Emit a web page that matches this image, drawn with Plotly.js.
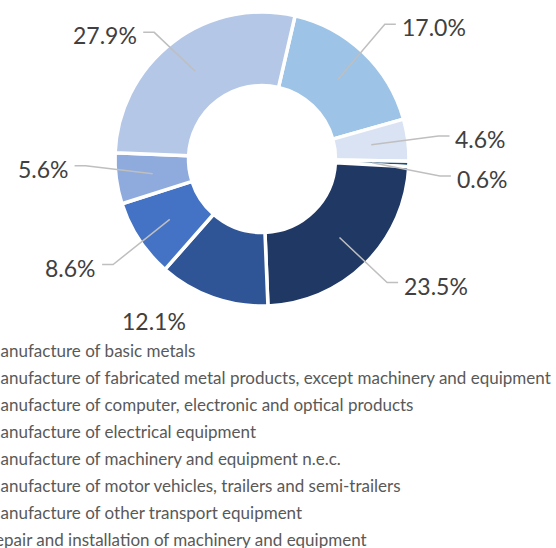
<!DOCTYPE html>
<html>
<head>
<meta charset="utf-8">
<script src="https://cdn.plot.ly/plotly-3.0.1.min.js"></script>
<style>html,body{margin:0;padding:0;background:#fff;}#chart{width:556px;height:548px;}</style>
</head>
<body>
<div id="chart"></div>
<script>
// ---- data ----
const categories = [
  "Manufacture of basic metals",
  "Manufacture of fabricated metal products, except machinery and equipment",
  "Manufacture of computer, electronic and optical products",
  "Manufacture of electrical equipment",
  "Manufacture of machinery and equipment n.e.c.",
  "Manufacture of motor vehicles, trailers and semi-trailers",
  "Manufacture of other transport equipment",
  "Repair and installation of machinery and equipment"
];
const shares = [17.0, 4.6, 0.6, 23.5, 12.1, 8.6, 5.6, 27.9];
const sliceColors = ["#9DC3E6", "#DAE3F3", "#1F4E79", "#203864", "#2F5597", "#4472C4", "#8FAADC", "#B4C7E7"];

// ---- layout / style config ----
const showLeader = [true, true, true, true, false, true, true, true];
const labelNudge = [-6, 0, 11, -3, -9, 8, -17, 15];   // vertical label nudges (px)
const W = 556, H = 548;
const cx = 262, cy = 159, R = 147, hole = 0.5, rotationDeg = 13;
const elbowR = 178, horiz = 11, textGap = 4;

const px2x = p => p / W;
const py2y = p => 1 - p / H;

const total = shares.reduce((a, b) => a + b, 0);
const shapes = [];
const annotations = [];
let acc = 0;
shares.forEach((v, i) => {
  const mid = (rotationDeg + (acc + v / 2) / total * 360) * Math.PI / 180;
  acc += v;
  const rA = R * (1 + hole) / 2;
  const ax = cx + rA * Math.sin(mid), ay = cy - rA * Math.cos(mid);
  const ex = cx + elbowR * Math.sin(mid), ey = cy - elbowR * Math.cos(mid) + labelNudge[i];
  const right = Math.sin(mid) >= 0;
  const hx = ex + (right ? horiz : -horiz);
  if (showLeader[i]) {
    shapes.push({
      type: "path", xref: "paper", yref: "paper",
      path: `M ${px2x(ax)},${py2y(ay)} L ${px2x(ex)},${py2y(ey)} L ${px2x(hx)},${py2y(ey)}`,
      line: { color: "#BFBFBF", width: 1.5 }
    });
  }
  annotations.push({
    xref: "paper", yref: "paper",
    x: px2x(hx + (right ? textGap : -textGap)), y: py2y(ey),
    xanchor: right ? "left" : "right", yanchor: "middle", yshift: -3,
    text: v.toFixed(1) + "%", showarrow: false,
    font: { family: "Lato, 'Open Sans', sans-serif", size: 23, color: "#404040" }
  });
});

const trace = {
  type: "pie",
  labels: categories.map(c => `<span style="font-size:17px">${c}</span>`),
  values: shares,
  sort: false,
  direction: "clockwise",
  rotation: rotationDeg,
  hole: hole,
  textinfo: "none",
  marker: { colors: sliceColors, line: { color: "#ffffff", width: 3.5 } },
  domain: { x: [px2x(cx - R), px2x(cx + R)], y: [py2y(cy + R), py2y(cy - R)] },
  hoverinfo: "label+percent"
};

const layout = {
  width: W, height: H,
  margin: { l: 0, r: 0, t: 0, b: 0, autoexpand: false },
  paper_bgcolor: "#ffffff",
  showlegend: true,
  legend: {
    x: -55 / W, xanchor: "left",
    y: 1 - 331 / H, yanchor: "top",
    orientation: "v",
    font: { family: "Lato, 'Open Sans', sans-serif", size: 18.5, color: "#595959" },
    bgcolor: "rgba(0,0,0,0)"
  },
  shapes: shapes,
  annotations: annotations
};

Plotly.newPlot("chart", [trace], layout, { displayModeBar: false, staticPlot: true });
</script>
</body>
</html>
